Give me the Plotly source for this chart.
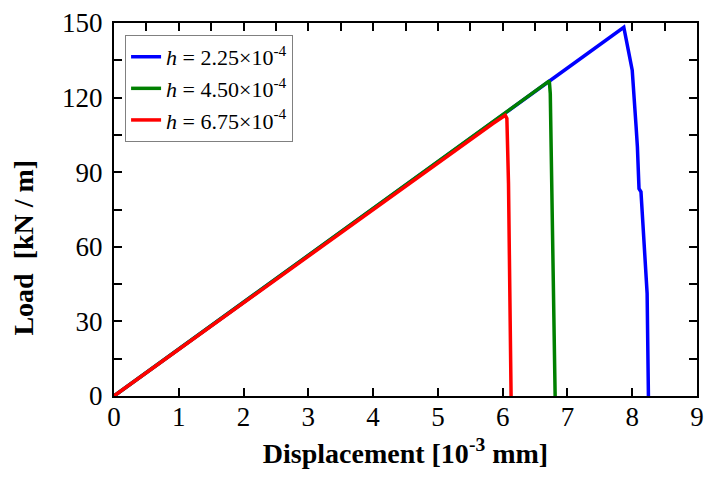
import plotly.graph_objects as go

# Data
blue_x = [0, 7.87, 7.94, 8.00, 8.06, 8.08, 8.105, 8.135, 8.23, 8.25]
blue_y = [0, 148.3, 139.0, 131.0, 108.2, 100.2, 83.4, 82.1, 41.3, 0]

green_x = [0, 6.72, 6.735, 6.76, 6.785, 6.81]
green_y = [0, 126.7, 121.6, 85.5, 31.9, 0]

red_x = [0, 5.5, 5.85, 6.04, 6.065, 6.09, 6.13]
red_y = [0, 103.4, 109.6, 112.9, 111.6, 85.5, 0]

labels = ["<i>h</i> = 2.25×10<sup>-4</sup>",
          "<i>h</i> = 4.50×10<sup>-4</sup>",
          "<i>h</i> = 6.75×10<sup>-4</sup>"]
colors = ["#0000FF", "#008000", "#FF0000"]

x_ticks = list(range(0, 10))
y_ticks = [0, 30, 60, 90, 120, 150]

FONT = "Liberation Serif, Times New Roman, serif"

fig = go.Figure()
for xs, ys, lab, col in zip([blue_x, green_x, red_x], [blue_y, green_y, red_y], labels, colors):
    fig.add_trace(go.Scatter(x=xs, y=ys, mode="lines", name=lab,
                             line=dict(color=col, width=3.5)))

# invisible trace for the top axis (half-unit ticks)
fig.add_trace(go.Scatter(x=[0, 9], y=[0, 0], xaxis="x2", mode="lines",
                         line=dict(width=0), showlegend=False, hoverinfo="skip"))

fig.update_layout(
    width=704, height=493,
    margin=dict(l=114, r=7, t=23, b=97, autoexpand=False),
    paper_bgcolor="white", plot_bgcolor="white",
    font=dict(family=FONT, color="black", size=26),
    showlegend=True,
    legend=dict(x=0.019, y=0.968, xanchor="left", yanchor="top",
                bgcolor="white", bordercolor="#808080", borderwidth=1,
                font=dict(family=FONT, size=22, color="black"),
                itemwidth=30, tracegroupgap=0),
    xaxis=dict(range=[0, 9], tickvals=x_ticks, ticktext=[str(v) for v in x_ticks],
               ticks="inside", ticklen=8, tickwidth=1.5, tickcolor="black",
               showline=True, linecolor="black", linewidth=2, mirror=True,
               showgrid=False, zeroline=False, ticklabelstandoff=-4, automargin=False,
               tickfont=dict(family=FONT, size=27),
               title=dict(text="<b>Displacement [10<sup>-3</sup> mm]</b>",
                          font=dict(family=FONT, size=28), standoff=12)),
    xaxis2=dict(range=[0, 9], overlaying="x", side="top", dtick=0.5, tick0=0,
                ticks="inside", ticklen=8, tickwidth=1.5, tickcolor="black", automargin=False,
                showticklabels=False, showgrid=False, zeroline=False, showline=False),
    yaxis=dict(range=[0, 150], tickvals=y_ticks, ticktext=[str(v) for v in y_ticks],
               ticks="inside", ticklen=8, tickwidth=1.5, tickcolor="black",
               showline=True, linecolor="black", linewidth=2, mirror="allticks",
               showgrid=False, zeroline=False, ticklabelstandoff=4, automargin=False,
               minor=dict(dtick=15, ticks="inside", ticklen=8, tickwidth=1.5, tickcolor="black"),
               tickfont=dict(family=FONT, size=27)),
    annotations=[dict(text="<b>Load&nbsp;&nbsp;[kN / m]</b>", textangle=-90,
                      xref="paper", yref="paper", x=-0.156, y=0.398,
                      xanchor="center", yanchor="middle", showarrow=False,
                      font=dict(family=FONT, size=28, color="black"))],
)

fig.write_html("out.html", config={"displayModeBar": False},
               post_script="document.body.style.margin='0';document.body.style.overflow='hidden';")
